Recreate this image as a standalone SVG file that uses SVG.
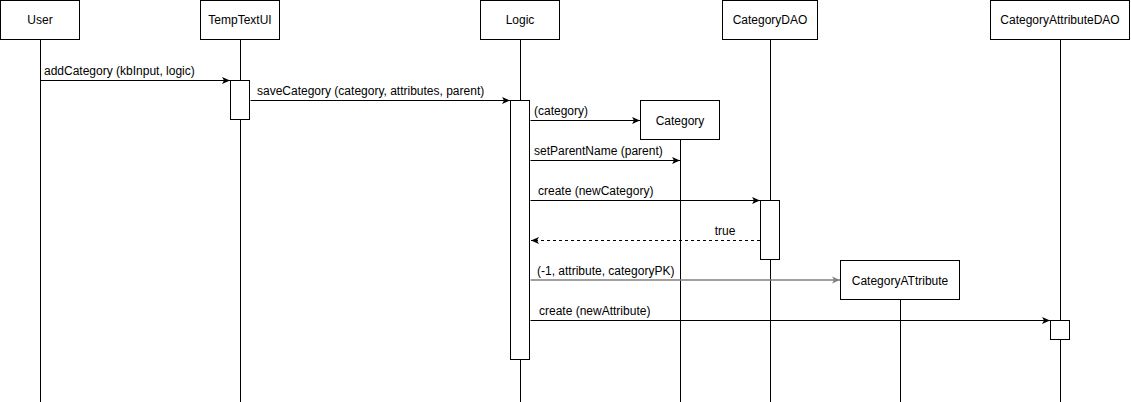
<svg xmlns="http://www.w3.org/2000/svg" width="1131" height="402" viewBox="0 0 1131 402">
<defs>
<marker id="ah" markerWidth="10" markerHeight="8" refX="8" refY="4" orient="auto" markerUnits="userSpaceOnUse">
<path d="M0,0.5 L8,4 L0,7.5 L2,4 Z" fill="#000"/>
</marker>
<marker id="ahg" markerWidth="10" markerHeight="8" refX="8" refY="4" orient="auto" markerUnits="userSpaceOnUse">
<path d="M0,0.5 L8,4 L0,7.5 L2,4 Z" fill="#808080"/>
</marker>
<marker id="aho" markerWidth="10" markerHeight="8" refX="8" refY="4" orient="auto" markerUnits="userSpaceOnUse">
<path d="M0,0.5 L8,4 L0,7.5 L2,4 Z" fill="#000"/>
</marker>
</defs>
<style>
.box{fill:#fff;stroke:#000;stroke-width:1}
.life{stroke:#000;stroke-width:1;fill:none}
.msg{stroke:#000;stroke-width:1;fill:none;marker-end:url(#ah)}
.ret{stroke:#000;stroke-width:1;fill:none;stroke-dasharray:3,3;marker-end:url(#aho)}
.sel{stroke:#808080;stroke-width:1.5;fill:none;marker-end:url(#ahg)}
text{font-family:"Liberation Sans",Arial,sans-serif;font-size:12px;fill:#000}
.c{text-anchor:middle}
</style>
<rect width="1131" height="402" fill="#fff"/>
<g id="lifelines">
<line class="life" x1="40.5" y1="40" x2="40.5" y2="402"/>
<line class="life" x1="240.5" y1="40" x2="240.5" y2="402"/>
<line class="life" x1="520.5" y1="40" x2="520.5" y2="402"/>
<line class="life" x1="770.5" y1="40" x2="770.5" y2="402"/>
<line class="life" x1="1060.5" y1="40" x2="1060.5" y2="402"/>
<line class="life" x1="680.5" y1="140" x2="680.5" y2="402"/>
<line class="life" x1="900.5" y1="300" x2="900.5" y2="402"/>
</g>
<g id="connectors">
<line class="msg" x1="40.5" y1="80.5" x2="230" y2="80.5"/>
<text x="44" y="75">addCategory (kbInput, logic)</text>
<line class="msg" x1="250.5" y1="100.5" x2="510" y2="100.5"/>
<text x="257" y="95">saveCategory (category, attributes, parent)</text>
<line class="msg" x1="530.5" y1="120.5" x2="640" y2="120.5"/>
<text x="534" y="115">(category)</text>
<line class="msg" x1="530.5" y1="160.5" x2="680" y2="160.5"/>
<text x="534" y="155">setParentName (parent)</text>
<line class="msg" x1="530.5" y1="200.5" x2="760" y2="200.5"/>
<text x="538" y="195">create (newCategory)</text>
<line class="ret" x1="760" y1="240.5" x2="531" y2="240.5"/>
<text class="c" x="725" y="235">true</text>
<line class="sel" x1="530.5" y1="280" x2="840" y2="280"/>
<text x="537" y="275">(-1, attribute, categoryPK)</text>
<line class="msg" x1="530.5" y1="320.5" x2="1050" y2="320.5"/>
<text x="539" y="315">create (newAttribute)</text>
</g>
<g id="User"><rect class="box" x="0.5" y="0.5" width="79" height="39"/><text class="c" x="40" y="24">User</text></g>
<g id="TempTextUI"><rect class="box" x="200.5" y="0.5" width="79" height="39"/><text class="c" x="240" y="24">TempTextUI</text>
<rect class="box" x="230.5" y="80.5" width="19" height="39"/></g>
<g id="Logic"><rect class="box" x="480.5" y="0.5" width="79" height="39"/><text class="c" x="520" y="24">Logic</text>
<rect class="box" x="510.5" y="100.5" width="19" height="259"/></g>
<g id="CategoryDAO"><rect class="box" x="722.5" y="0.5" width="95" height="39"/><text class="c" x="770" y="24">CategoryDAO</text>
<rect class="box" x="760.5" y="200.5" width="19" height="59"/></g>
<g id="CategoryAttributeDAO"><rect class="box" x="990.5" y="0.5" width="139" height="39"/><text class="c" x="1060" y="24">CategoryAttributeDAO</text>
<rect class="box" x="1050.5" y="320.5" width="19" height="19"/></g>
<g id="Category"><rect class="box" x="640.5" y="100.5" width="79" height="39"/><text class="c" x="680" y="125">Category</text></g>
<g id="CategoryATtribute"><rect class="box" x="840.5" y="260.5" width="119" height="39"/><text class="c" x="900" y="285">CategoryATtribute</text></g>
</svg>
